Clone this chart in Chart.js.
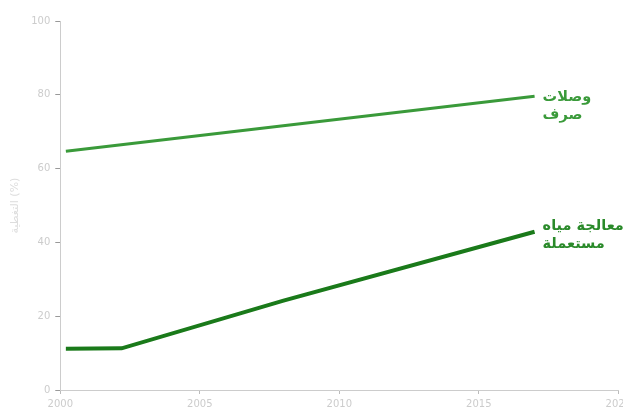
<!DOCTYPE html>
<html><head><meta charset="utf-8">
<script src="https://cdn.jsdelivr.net/npm/chart.js@4/dist/chart.umd.min.js"></script>
<style>html,body{margin:0;padding:0;background:#fff;overflow:hidden;width:623px;height:414px}#w{width:635px;height:414px}</style>
</head><body><div id="w"><canvas id="c"></canvas></div>
<script>
const years = [2000.2, 2002.2, 2008, 2017];
const sewerYears = [2000.2, 2017];
const sewerValues = [64.7, 79.6];
const treatValues = [11.2, 11.3, 24.2, 42.9];
const sewerLabel = ["وصلات", "صرف"];
const treatLabel = ["معالجة مياه", "مستعملة"];
const yTicks = [0, 20, 40, 60, 80, 100];
const xTicks = [2000, 2005, 2010, 2015, 2020];
const yTitle = "التغطية (%)";

const endLabels = {
  id: 'endLabels',
  afterDatasetsDraw(chart) {
    const ctx = chart.ctx;
    ctx.save();
    ctx.font = 'bold 14.5px "DejaVu Sans", sans-serif';
    ctx.textBaseline = 'middle';
    chart.data.datasets.forEach((ds, i) => {
      const meta = chart.getDatasetMeta(i);
      const p = meta.data[meta.data.length - 1];
      ctx.fillStyle = ds.labelColor;
      ds.endLabel.forEach((t, k) => {
        ctx.direction = 'rtl';
        ctx.textAlign = 'right';
        const x = p.x + 8 + ctx.measureText(t).width;
        ctx.fillText(t, x, p.y + ds.labelDy + k * 18);
      });
    });
    ctx.restore();
  }
};

new Chart(document.getElementById('c'), {
  type: 'line',
  data: {
    datasets: [
      { data: sewerYears.map((x, i) => ({ x, y: sewerValues[i] })), borderColor: '#3a9a3a', borderWidth: 3, pointRadius: 0, tension: 0, endLabel: sewerLabel, labelColor: '#3a9a3a', labelDy: 1 },
      { data: years.map((x, i) => ({ x, y: treatValues[i] })), borderColor: '#1a7a1a', borderWidth: 4, pointRadius: 0, tension: 0, endLabel: treatLabel, labelColor: '#2a8a2a', labelDy: -5 }
    ]
  },
  options: {
    responsive: true, maintainAspectRatio: false, animation: false,
    layout: { padding: { top: 21, right: 0, left: 5, bottom: 0 } },
    plugins: { legend: { display: false }, tooltip: { enabled: false } },
    scales: {
      x: {
        type: 'linear', min: 2000, max: 2020,
        afterBuildTicks(a) { a.ticks = xTicks.map(v => ({ value: v })); },
        grid: { drawOnChartArea: false, color: '#bbb', tickLength: 4 },
        border: { color: '#ccc', width: 1 },
        ticks: { color: '#ccc', font: { size: 10, family: 'DejaVu Sans' }, callback: v => String(v), padding: 4 }
      },
      y: {
        min: 0, max: 100,
        afterBuildTicks(a) { a.ticks = yTicks.map(v => ({ value: v })); },
        grid: { drawOnChartArea: false, color: '#999', tickLength: 5 },
        border: { color: '#ccc', width: 1 },
        ticks: { color: '#ccc', font: { size: 10, family: 'DejaVu Sans' }, padding: 5 },
        title: { display: true, text: yTitle, color: '#ddd', font: { size: 11, family: 'DejaVu Sans' }, padding: 4 }
      }
    }
  },
  plugins: [endLabels]
});
</script></body></html>
